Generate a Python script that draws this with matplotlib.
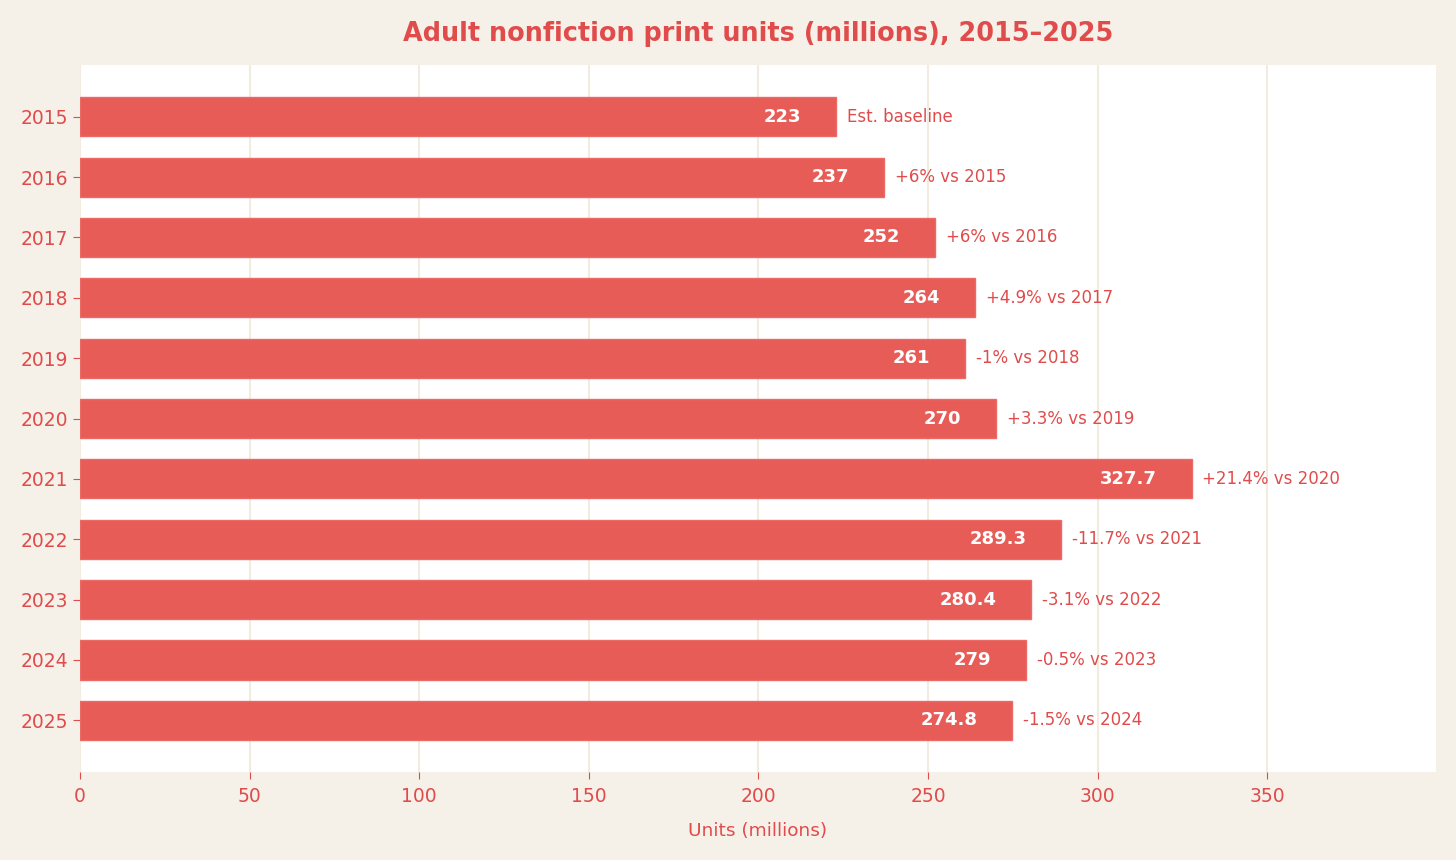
import matplotlib
matplotlib.use("Agg")
import matplotlib.pyplot as plt

plt.rcParams["font.family"] = ["DejaVu Sans"]

years = ["2015", "2016", "2017", "2018", "2019", "2020", "2021", "2022", "2023", "2024", "2025"]
values = [223, 237, 252, 264, 261, 270, 327.7, 289.3, 280.4, 279, 274.8]
value_labels = ["223", "237", "252", "264", "261", "270", "327.7", "289.3", "280.4", "279", "274.8"]
notes = ["Est. baseline", "+6% vs 2015", "+6% vs 2016", "+4.9% vs 2017", "-1% vs 2018",
         "+3.3% vs 2019", "+21.4% vs 2020", "-11.7% vs 2021", "-3.1% vs 2022",
         "-0.5% vs 2023", "-1.5% vs 2024"]

BG = "#F5F0E8"
BAR = "#E85C58"
TXT = "#E04B4B"

fig = plt.figure(figsize=(14.56, 8.6), dpi=100, facecolor=BG)
ax = fig.add_axes([0.0549, 0.1023, 0.9314, 0.8221])
ax.set_facecolor("white")

pos = list(range(len(years)))
ax.barh(pos, values, height=0.65, color=BAR, edgecolor="#EC6A66", linewidth=1, zorder=3)
ax.invert_yaxis()
ax.set_xlim(0, max(values) * 1.22)

for p, v, lab, note in zip(pos, values, value_labels, notes):
    ax.text(v - 10.3, p, lab, ha="right", va="center", color="white",
            fontsize=13, fontweight="bold", zorder=4)
    ax.text(v + 3.2, p, note, ha="left", va="center", color=TXT, fontsize=12, zorder=4)

ax.set_yticks(pos)
ax.set_yticklabels(years)
ax.set_xticks([0, 50, 100, 150, 200, 250, 300, 350])
ax.tick_params(colors=TXT, labelsize=13.5, length=5)
ax.tick_params(axis="x", pad=6)
for s in ax.spines.values():
    s.set_visible(False)
ax.grid(axis="x", color="#F2ECE0", linewidth=1.5, zorder=0)
ax.set_axisbelow(True)

ax.set_xlabel("Units (millions)", color=TXT, fontsize=13.3, labelpad=11)
ax.set_title("Adult nonfiction print units (millions), 2015\u20132025", color=TXT,
             fontsize=18.4, fontweight="bold", pad=17)

fig.savefig("out.png", dpi=100, facecolor=BG)
